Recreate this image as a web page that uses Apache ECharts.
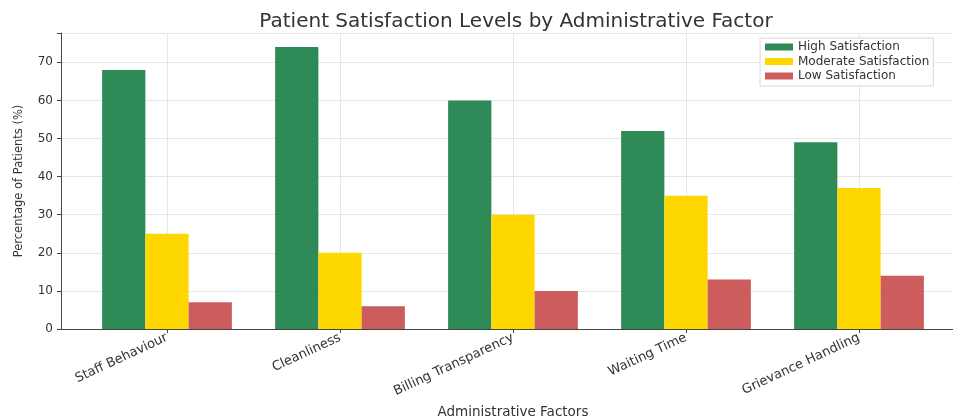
<!DOCTYPE html>
<html>
<head>
<meta charset="utf-8">
<script src="https://cdn.jsdelivr.net/npm/echarts@6/dist/echarts.min.js"></script>
<style>html,body{margin:0;padding:0;background:#fff}#c{width:953px;height:420px}</style>
</head>
<body>
<div id="c"></div>
<script>
const categories = ["Staff Behaviour", "Cleanliness", "Billing Transparency", "Waiting Time", "Grievance Handling"];
const highSatisfaction = [68, 74, 60, 52, 49];
const moderateSatisfaction = [25, 20, 30, 35, 37];
const lowSatisfaction = [7, 6, 10, 13, 14];
const yTicks = [0, 10, 20, 30, 40, 50, 60, 70];

const FONT = "DejaVu Sans";
const chart = echarts.init(document.getElementById('c'), null, {renderer: 'canvas'});
const yMax = 77.7;
const gridBase = {top: 33, bottom: 91, outerBoundsMode: 'none', containLabel: false};
chart.setOption({
  animation: false,
  backgroundColor: '#fff',
  textStyle: {fontFamily: FONT},
  title: {
    text: 'Patient Satisfaction Levels by Administrative Factor',
    left: 511, top: 7, textAlign: 'center',
    textStyle: {fontFamily: FONT, fontSize: 20, fontWeight: 'normal', color: '#333'}
  },
  legend: {
    orient: 'vertical', left: 760, top: 38,
    icon: 'rect', itemWidth: 28, itemHeight: 7, itemGap: 2.5,
    padding: [3, 4, 4, 5],
    borderColor: '#d8d8d8', borderWidth: 1, backgroundColor: 'rgba(255,255,255,0.9)',
    textStyle: {fontFamily: FONT, fontSize: 12, color: '#333', lineHeight: 12},
    data: ['High Satisfaction', 'Moderate Satisfaction', 'Low Satisfaction']
  },
  grid: [
    Object.assign({left: 61, right: -12}, gridBase),
    Object.assign({left: 80.5, width: 865}, gridBase),
    Object.assign({left: 167, width: 692}, gridBase)
  ],
  xAxis: [
    {type: 'value', gridIndex: 0, min: 0, max: 1,
     axisLine: {show: true, onZero: false, lineStyle: {color: '#444', width: 1}},
     axisTick: {show: false}, axisLabel: {show: false}, splitLine: {show: false},
     name: 'Administrative Factors', nameLocation: 'middle', nameGap: 76,
     nameTextStyle: {fontFamily: FONT, fontSize: 13.5, color: '#333'}},
    {type: 'category', gridIndex: 1, data: categories, boundaryGap: true,
     axisLine: {show: false},
     axisTick: {show: true, alignWithLabel: true, length: 4, lineStyle: {color: '#444'}},
     axisLabel: {rotate: 25, fontFamily: FONT, fontSize: 13, color: '#333', margin: 8, interval: 0},
     splitLine: {show: false}},
    {type: 'value', gridIndex: 2, min: 0, max: 4, interval: 1,
     axisLine: {show: false}, axisTick: {show: false}, axisLabel: {show: false},
     splitLine: {show: true, lineStyle: {color: '#e6e6e6', width: 1}}}
  ],
  yAxis: [
    {type: 'value', gridIndex: 0, min: 0, max: yMax, interval: 10,
     axisLine: {show: true, lineStyle: {color: '#444', width: 1}},
     axisTick: {show: true, length: 4, lineStyle: {color: '#444'}},
     axisLabel: {fontFamily: FONT, fontSize: 12, color: '#333', margin: 8,
       formatter: v => yTicks.includes(v) ? String(v) : ''},
     splitLine: {show: true, lineStyle: {color: '#e6e6e6', width: 1}},
     name: 'Percentage of Patients (%)', nameLocation: 'middle', nameGap: 36, nameRotate: 90,
     nameTextStyle: {fontFamily: FONT, fontSize: 11.5, color: '#333'}},
    {type: 'value', gridIndex: 1, min: 0, max: yMax, show: false, splitLine: {show: false}},
    {type: 'value', gridIndex: 2, min: 0, max: yMax, show: false, splitLine: {show: false}}
  ],
  series: [
    {name: 'High Satisfaction', type: 'bar', xAxisIndex: 1, yAxisIndex: 1, data: highSatisfaction,
     barWidth: '25%', barGap: '0%', itemStyle: {color: '#2e8b57'}},
    {name: 'Moderate Satisfaction', type: 'bar', xAxisIndex: 1, yAxisIndex: 1, data: moderateSatisfaction,
     barWidth: '25%', barGap: '0%', itemStyle: {color: '#ffd700'}},
    {name: 'Low Satisfaction', type: 'bar', xAxisIndex: 1, yAxisIndex: 1, data: lowSatisfaction,
     barWidth: '25%', barGap: '0%', itemStyle: {color: '#cd5c5c'}}
  ]
});
</script>
</body>
</html>
